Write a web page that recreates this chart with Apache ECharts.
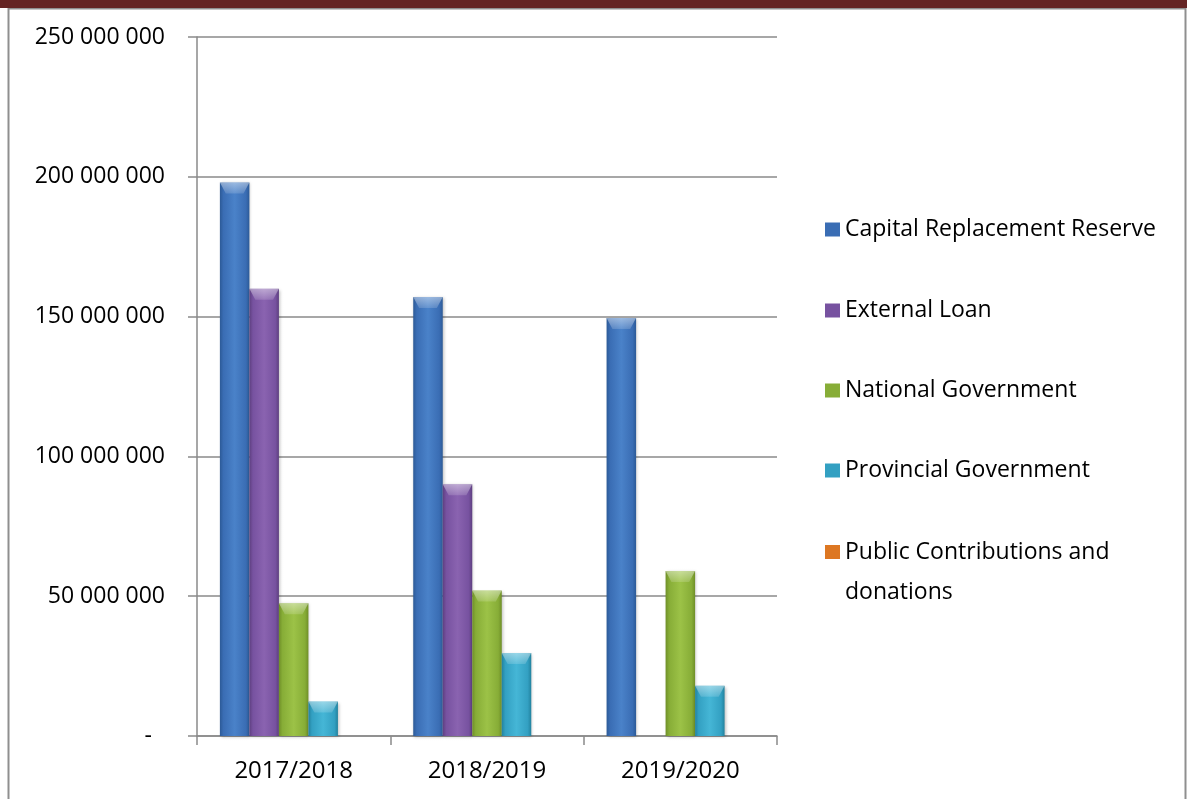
<!DOCTYPE html>
<html>
<head>
<meta charset="utf-8">
<script src="https://cdn.jsdelivr.net/npm/echarts@6/dist/echarts.min.js"></script>
<style>
  html, body { margin: 0; padding: 0; background: #ffffff; }
  #chart { width: 1187px; height: 799px; }
</style>
</head>
<body>
<div id="chart"></div>
<script>
// Capital funding sources by financial year (Rand)
const years = ['2017/2018', '2018/2019', '2019/2020'];
const seriesNames = [
  'Capital Replacement Reserve',
  'External Loan',
  'National Government',
  'Provincial Government',
  'Public Contributions and donations'
];
const capitalReplacementReserve = [198000000, 157000000, 149500000];
const externalLoan = [160000000, 90000000, 0];
const nationalGovernment = [47500000, 52000000, 59000000];
const provincialGovernment = [12300000, 29700000, 18000000];
const publicContributions = [0, 0, 0];
const yTicks = [0, 50000000, 100000000, 150000000, 200000000, 250000000];

const seriesValues = [
  capitalReplacementReserve,
  externalLoan,
  nationalGovernment,
  provincialGovernment,
  publicContributions
];
// edge / centre shades for the bevelled bar look
const palette = [
  ['#2c5a97', '#4a82c9', '#3a6db4'],
  ['#5e3f80', '#8a63b0', '#7752a0'],
  ['#6f8f28', '#9cc247', '#87ad37'],
  ['#22829e', '#45b6d6', '#33a0c2'],
  ['#b25c16', '#ee8a35', '#dd7722']
];

const FONT = 'Open Sans';
const BAR_GAP = '0%';
const CAT_GAP = '23.7%';

function barColor(c) {
  return new echarts.graphic.LinearGradient(0, 0, 1, 0, [
    { offset: 0, color: c[0] },
    { offset: 0.12, color: c[2] },
    { offset: 0.5, color: c[1] },
    { offset: 0.88, color: c[2] },
    { offset: 1, color: c[0] }
  ]);
}

function fmtNum(v) {
  if (v === 0) return '{z|-}';
  return String(v).replace(/\B(?=(\d{3})+(?!\d))/g, ' ');
}

const barSeries = seriesNames.map((name, i) => ({
  name: name,
  type: 'bar',
  data: seriesValues[i],
  barGap: BAR_GAP,
  barCategoryGap: CAT_GAP,
  itemStyle: {
    color: barColor(palette[i]),
    shadowColor: 'rgba(0,0,0,0.25)',
    shadowBlur: 3,
    shadowOffsetX: 1,
    shadowOffsetY: 1
  },
  emphasis: { disabled: true }
}));

// light bevel caps on top of each non-empty bar
const capSeries = seriesNames.map((name, i) => ({
  name: name,
  type: 'pictorialBar',
  data: seriesValues[i].map(v => (v > 0 ? v : null)),
  barGap: BAR_GAP,
  barCategoryGap: CAT_GAP,
  symbol: 'path://M0,0 L20,0 L16,9 L4,9 Z',
  symbolSize: ['100%', 11],
  symbolPosition: 'end',
  symbolRepeat: false,
  itemStyle: {
    color: new echarts.graphic.LinearGradient(0, 0, 0, 1, [
      { offset: 0, color: 'rgba(255,255,255,0.45)' },
      { offset: 1, color: 'rgba(255,255,255,0.15)' }
    ])
  },
  z: 3,
  silent: true,
  emphasis: { disabled: true }
}));

// one legend block per entry, stacked down the right-hand side
const legendTops = [213, 294, 374, 454, 487];
const legends = seriesNames.map((name, i) => {
  const multi = i === 4;
  return {
    orient: 'vertical',
    left: 820,
    top: legendTops[i],
    itemWidth: 15,
    itemHeight: 14,
    icon: 'rect',
    selectedMode: false,
    data: [{ name: name, itemStyle: { color: palette[i][2] } }],
    // leading blank line keeps the swatch level with the first text line
    formatter: multi ? '\nPublic Contributions and\ndonations' : '{name}',
    textStyle: multi
      ? { fontFamily: FONT, fontSize: 23, color: '#000', lineHeight: 40 }
      : { fontFamily: FONT, fontSize: 23, color: '#000' }
  };
});

const option = {
  animation: false,
  backgroundColor: '#ffffff',
  grid: { left: 197, right: 410, top: 37, bottom: 63, containLabel: false },
  xAxis: {
    type: 'category',
    data: years,
    axisLine: { lineStyle: { color: '#8a8a8a', width: 1.5 } },
    axisTick: { show: true, length: 9, lineStyle: { color: '#8a8a8a', width: 1.5 } },
    axisLabel: { fontFamily: FONT, fontSize: 24, color: '#000', margin: 23 },
    splitLine: { show: false }
  },
  yAxis: {
    type: 'value',
    min: 0,
    max: 250000000,
    interval: 50000000,
    axisLine: { show: true, lineStyle: { color: '#8a8a8a', width: 1.5 } },
    axisTick: { show: true, length: 9, lineStyle: { color: '#8a8a8a', width: 1.5 } },
    axisLabel: {
      fontFamily: FONT, fontSize: 23, color: '#000', margin: 32,
      formatter: v => fmtNum(v),
      rich: { z: { fontFamily: FONT, fontSize: 23, color: '#000', padding: [0, 13, 0, 0] } }
    },
    splitLine: { show: true, lineStyle: { color: '#8a8a8a', width: 1.5 } }
  },
  legend: legends,
  series: barSeries.concat(capSeries),
  graphic: [
    { type: 'rect', shape: { x: 0, y: 0, width: 1187, height: 8 }, style: { fill: '#642423' }, z: 10 },
    { type: 'rect', shape: { x: 8.5, y: 8.5, width: 1177, height: 800 },
      style: { fill: 'none', stroke: '#8f8f8f', lineWidth: 2 }, z: 9 }
  ]
};

const chart = echarts.init(document.getElementById('chart'), null, { renderer: 'canvas' });
chart.setOption(option);
</script>
</body>
</html>
